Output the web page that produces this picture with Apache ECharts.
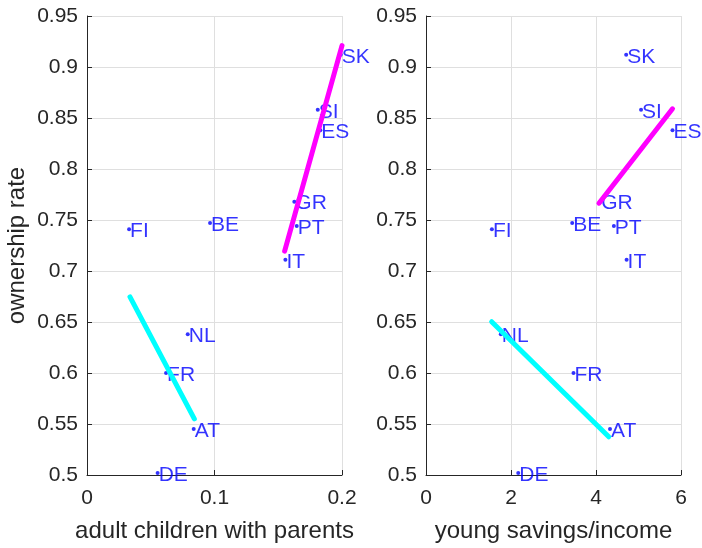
<!DOCTYPE html>
<html>
<head>
<meta charset="utf-8">
<script src="https://cdn.jsdelivr.net/npm/echarts@6/dist/echarts.min.js"></script>
<style>
  html, body { margin: 0; padding: 0; background: #fff; }
  #chart { width: 702px; height: 548px; }
</style>
</head>
<body>
<div id="chart"></div>
<script>
// Country codes and the three indicators for each country
const countries = ['FI', 'BE', 'SK', 'SI', 'ES', 'GR', 'PT', 'IT', 'NL', 'FR', 'AT', 'DE'];
const adultChildrenWithParents = [0.033, 0.0965, 0.199, 0.181, 0.183, 0.1626, 0.1645, 0.1556, 0.079, 0.062, 0.0837, 0.0554];
const youngSavingsIncome = [1.55, 3.44, 4.71, 5.06, 5.80, 4.10, 4.42, 4.72, 1.76, 3.47, 4.33, 2.17];
const ownershipRate = [0.741, 0.747, 0.912, 0.858, 0.838, 0.768, 0.744, 0.711, 0.638, 0.600, 0.545, 0.502];

// Fitted lines (start and end points) for the high- and low-ownership groups
const fitHighChildren = [[0.155, 0.7195], [0.2, 0.921]];
const fitLowChildren = [[0.0337, 0.6746], [0.0842, 0.555]];
const fitHighSavings = [[4.07, 0.7665], [5.80, 0.859]];
const fitLowSavings = [[1.545, 0.6503], [4.30, 0.5375]];

// Axis ranges and tick steps
const yRange = [0.5, 0.95], yStep = 0.05;
const xRangeChildren = [0, 0.2], xStepChildren = 0.1;
const xRangeSavings = [0, 6], xStepSavings = 2;

const FONT = 'Liberation Sans';
const AXIS_COLOR = '#262626';
const GRID_COLOR = '#dfdfdf';
const LABEL_BLUE = '#0000ff';

function points(xs) {
  return xs.map((x, i) => [x, ownershipRate[i], countries[i]]);
}

function xAxisDef(gridIndex, range, step, title) {
  return {
    type: 'value', gridIndex, min: range[0], max: range[1], interval: step,
    name: title, nameLocation: 'middle', nameGap: 44,
    nameTextStyle: { fontFamily: FONT, fontSize: 24, color: AXIS_COLOR },
    axisLine: { show: true, onZero: false, lineStyle: { color: AXIS_COLOR, width: 1 } },
    axisTick: { show: true, inside: true, length: 5, lineStyle: { color: AXIS_COLOR } },
    axisLabel: {
      fontFamily: FONT, fontSize: 21, color: AXIS_COLOR, margin: 13,
      formatter: v => String(+v.toFixed(3))
    },
    splitLine: { show: true, lineStyle: { color: GRID_COLOR, width: 1 } }
  };
}

function yAxisDef(gridIndex, title) {
  return {
    type: 'value', gridIndex, min: yRange[0], max: yRange[1], interval: yStep,
    name: title, nameLocation: 'middle', nameGap: 58,
    nameTextStyle: { fontFamily: FONT, fontSize: 24, color: AXIS_COLOR },
    axisLine: { show: true, onZero: false, lineStyle: { color: AXIS_COLOR, width: 1 } },
    axisTick: { show: true, inside: true, length: 5, lineStyle: { color: AXIS_COLOR } },
    axisLabel: {
      fontFamily: FONT, fontSize: 21, color: AXIS_COLOR, margin: 9,
      formatter: v => String(+v.toFixed(3))
    },
    splitLine: { show: true, lineStyle: { color: GRID_COLOR, width: 1 } }
  };
}

function scatterDef(index, xs) {
  return {
    type: 'scatter', xAxisIndex: index, yAxisIndex: index,
    data: points(xs), symbol: 'circle', symbolSize: 4, z: 2,
    itemStyle: { color: LABEL_BLUE },
    label: {
      show: true, position: [3, 4], align: 'left', verticalAlign: 'middle',
      formatter: p => p.data[2],
      fontFamily: FONT, fontSize: 21, color: LABEL_BLUE
    },
    emphasis: { disabled: true }, silent: true
  };
}

function fitDef(index, data, color) {
  return {
    type: 'line', xAxisIndex: index, yAxisIndex: index, data,
    showSymbol: false, symbol: 'none', z: 10,
    lineStyle: { color, width: 5, cap: 'round' },
    emphasis: { disabled: true }, silent: true
  };
}

const chart = echarts.init(document.getElementById('chart'), null, { renderer: 'canvas' });
chart.setOption({
  animation: false,
  backgroundColor: '#ffffff',
  grid: [
    { left: 87, top: 16, width: 255, height: 465, containLabel: false },
    { left: 426, top: 16, width: 255, height: 465, containLabel: false }
  ],
  xAxis: [
    xAxisDef(0, xRangeChildren, xStepChildren, 'adult children with parents'),
    xAxisDef(1, xRangeSavings, xStepSavings, 'young savings/income')
  ],
  yAxis: [
    yAxisDef(0, 'ownership rate'),
    yAxisDef(1, '')
  ],
  series: [
    scatterDef(0, adultChildrenWithParents),
    scatterDef(1, youngSavingsIncome),
    fitDef(0, fitHighChildren, '#ff00ff'),
    fitDef(0, fitLowChildren, '#00ffff'),
    fitDef(1, fitHighSavings, '#ff00ff'),
    fitDef(1, fitLowSavings, '#00ffff')
  ]
});
</script>
</body>
</html>
